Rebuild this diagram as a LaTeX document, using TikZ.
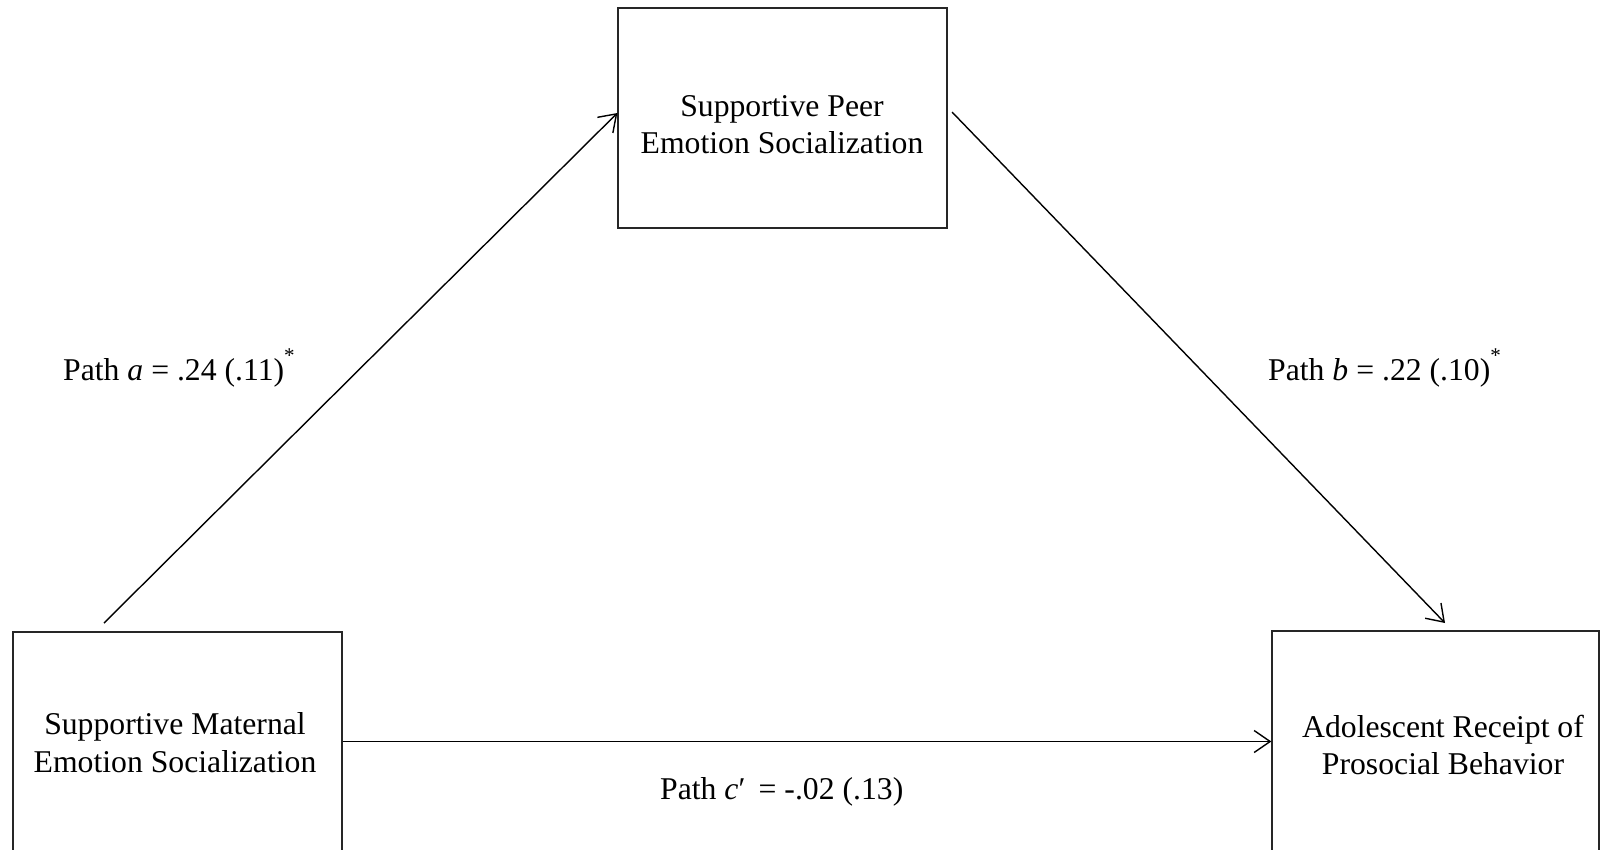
\documentclass[tikz,border=0pt]{standalone}
\usepackage{fontspec}
\setmainfont{Liberation Serif}
\usetikzlibrary{arrows.meta,calc}
\newcommand{\sigstar}{\raisebox{0.55em}{\fontsize{21}{21}\selectfont *}}
\begin{document}
\begin{tikzpicture}[x=1pt,y=-1pt,
  box/.style={draw=black!85,line width=1.3pt,minimum width=329pt,inner sep=0pt},
  boxtext/.style={align=center,font=\fontsize{31.7}{37.5}\selectfont,inner sep=0pt},
  lab/.style={font=\fontsize{31.7}{37.5}\selectfont,inner sep=0pt,anchor=base west},
  arr/.style={line width=1.4pt,-{Straight Barb[length=16pt,width=22pt,line width=1.4pt]}}]
\clip (0,0) rectangle (1601,849);
\fill[white] (0,0) rectangle (1601,849);
% boxes
\node[box,minimum height=220pt] (top) at (782.5,118) {};
\node[box,minimum height=219pt] (lbox) at (177.5,741.5) {};
\node[box,minimum height=230pt,minimum width=327pt] (rbox) at (1435.5,746) {};
% box texts
\node[boxtext] (toptext) at (782,124.5) {Supportive Peer\\Emotion Socialization};
\node[boxtext] (ltext) at (175,742.5) {Supportive Maternal\\Emotion Socialization};
\node[boxtext] (rtext) at (1443,745) {Adolescent Receipt of\\Prosocial Behavior};
% connectors
\coordinate (aS) at (104,623);
\coordinate (bS) at (952,112);
\coordinate (bE) at (1445,623);
\draw[arr] (aS) -- ($(top.west)+(0,-5)$);
\draw[arr] (bS) -- (bE);
\draw[arr] (lbox.east) -- (rbox.west |- lbox.east);
% labels
\node[lab] (la) at (63,380) {Path \textit{a} = .24 (.11)\sigstar};
\node[lab] (lb) at (1268,380) {Path \textit{b} = .22 (.10)\sigstar};
\node[lab] (lc) at (660,799) {Path \textit{c}′\, = -.02 (.13)};
\end{tikzpicture}
\end{document}
